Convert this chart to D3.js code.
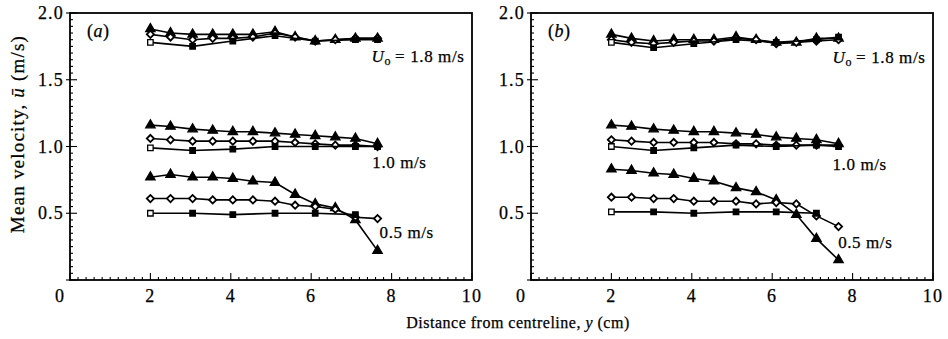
<!DOCTYPE html>
<meta charset="utf-8">
<style>
body { margin: 0; background: #fff; }
svg text { font-family: "Liberation Serif", "DejaVu Serif", serif; fill: #000; stroke: #000; stroke-width: 0.25; }
.tick-label { font-size: 18px; letter-spacing: 1.2px; }
.note { font-size: 17px; letter-spacing: 0.6px; }
.title { font-size: 16px; letter-spacing: 0.5px; }
.ytitle { font-size: 19px; letter-spacing: 1.2px; }
.series { fill: none; stroke: #000; stroke-width: 1.6; }
.frame { fill: none; stroke: #000; stroke-width: 1.8; }
</style>
<body></body>
<script src="https://d3js.org/d3.v7.min.js"></script>
<script>
var width = 948, height = 339;

// x positions (cm) of the measuring stations
var xFine = [2.0, 2.5, 3.05, 3.55, 4.05, 4.55, 5.1, 5.6, 6.1, 6.6, 7.1, 7.65];
var xCoarse = [2.0, 3.05, 4.05, 5.1, 6.1, 7.1, 7.65];
var xCoarseLow = [2.0, 3.05, 4.05, 5.1, 6.1, 7.1];

// panel (a)
var a18Tri = [1.88, 1.85, 1.84, 1.84, 1.84, 1.84, 1.86, 1.82, 1.79, 1.80, 1.81, 1.81];
var a18Dia = [1.84, 1.82, 1.80, 1.81, 1.81, 1.82, 1.85, 1.82, 1.79, 1.80, 1.81, 1.81];
var a18Sq = [1.78, 1.75, 1.79, 1.83, 1.79, 1.80, 1.80];
var a10Tri = [1.16, 1.15, 1.13, 1.12, 1.11, 1.11, 1.10, 1.09, 1.08, 1.07, 1.06, 1.02];
var a10Dia = [1.06, 1.05, 1.04, 1.04, 1.04, 1.04, 1.04, 1.03, 1.02, 1.01, 1.01, 1.00];
var a10Sq = [0.99, 0.97, 0.98, 1.00, 1.00, 1.00, 1.00];
var a05Tri = [0.77, 0.79, 0.77, 0.77, 0.76, 0.74, 0.73, 0.64, 0.57, 0.54, 0.45, 0.22];
var a05Dia = [0.61, 0.61, 0.61, 0.60, 0.60, 0.60, 0.59, 0.56, 0.55, 0.53, 0.47, 0.46];
var a05Sq = [0.50, 0.50, 0.49, 0.50, 0.50, 0.49];

// panel (b)
var b18Tri = [1.84, 1.81, 1.79, 1.80, 1.80, 1.80, 1.82, 1.80, 1.78, 1.78, 1.81, 1.81];
var b18Dia = [1.80, 1.78, 1.77, 1.78, 1.79, 1.79, 1.81, 1.80, 1.77, 1.78, 1.79, 1.80];
var b18Sq = [1.78, 1.74, 1.77, 1.80, 1.78, 1.80, 1.82];
var b10Tri = [1.16, 1.15, 1.13, 1.12, 1.11, 1.11, 1.10, 1.09, 1.07, 1.06, 1.05, 1.02];
var b10Dia = [1.05, 1.04, 1.03, 1.03, 1.03, 1.03, 1.02, 1.02, 1.01, 1.01, 1.01, 1.01];
var b10Sq = [1.00, 0.97, 0.99, 1.01, 1.00, 1.01, 1.00];
var b05Tri = [0.83, 0.82, 0.80, 0.79, 0.76, 0.74, 0.69, 0.66, 0.60, 0.49, 0.31, 0.15];
var b05Dia = [0.62, 0.62, 0.61, 0.61, 0.59, 0.59, 0.59, 0.57, 0.58, 0.57, 0.48, 0.40];
var b05Sq = [0.51, 0.51, 0.50, 0.51, 0.51, 0.50];

var xTicks = [0, 2, 4, 6, 8, 10];
var yTicks = [0.5, 1.0, 1.5, 2.0];
var yTickLabels = ["0.5", "1.0", "1.5", "2.0"];

var panels = [
	{tag: "a", left: 70, right: 472,
	 series: [[xFine, a18Tri, "tri"], [xFine, a18Dia, "dia"], [xCoarse, a18Sq, "sq"],
	          [xFine, a10Tri, "tri"], [xFine, a10Dia, "dia"], [xCoarse, a10Sq, "sq"],
	          [xFine, a05Tri, "tri"], [xFine, a05Dia, "dia"], [xCoarseLow, a05Sq, "sq"]],
	 notes: [[7.5, 1.635], [7.52, 0.84], [7.7, 0.315]]},
	{tag: "b", left: 531, right: 933,
	 series: [[xFine, b18Tri, "tri"], [xFine, b18Dia, "dia"], [xCoarse, b18Sq, "sq"],
	          [xFine, b10Tri, "tri"], [xFine, b10Dia, "dia"], [xCoarse, b10Sq, "sq"],
	          [xFine, b05Tri, "tri"], [xFine, b05Dia, "dia"], [xCoarseLow, b05Sq, "sq"]],
	 notes: [[7.5, 1.625], [7.5, 0.825], [7.64, 0.24]]}
];

var plotTop = 13, plotBottom = 280;

var svg = d3.select("body").append("svg")
	.attr("width", width)
	.attr("height", height);

var sym = {
	tri: d3.symbol().type(d3.symbolTriangle).size(38),
	dia: d3.symbol().type(d3.symbolSquare).size(26),
	sq: d3.symbol().type(d3.symbolSquare).size(30)
};

panels.forEach(function(p) {
	var x = d3.scaleLinear().domain([0, 10]).range([p.left, p.right]);
	var y = d3.scaleLinear().domain([0, 2]).range([plotBottom, plotTop]);
	var g = svg.append("g");

	// minor ticks pointing inward, majors crossing the axis
	g.selectAll(".xminor").data(d3.range(0, 10.001, 0.2)).enter().append("line")
		.attr("x1", function(d) { return x(d); }).attr("x2", function(d) { return x(d); })
		.attr("y1", plotBottom).attr("y2", function(d, i) { return i % 10 == 0 ? plotBottom - 7 : plotBottom - 3; })
		.attr("stroke", "#000").attr("stroke-width", 1.1);
	g.selectAll(".yminor").data(d3.range(0, 2.001, 0.05)).enter().append("line")
		.attr("y1", function(d) { return y(d); }).attr("y2", function(d) { return y(d); })
		.attr("x1", function(d, i) { return i % 10 == 0 ? p.left - 4 : p.left; })
		.attr("x2", function(d, i) { return i % 10 == 0 ? p.left + 7 : p.left + 3; })
		.attr("stroke", "#000").attr("stroke-width", 1.1);

	g.append("rect").attr("class", "frame")
		.attr("x", p.left).attr("y", plotTop)
		.attr("width", p.right - p.left).attr("height", plotBottom - plotTop);

	// tick labels
	g.selectAll(".xl").data(xTicks).enter().append("text")
		.attr("class", "tick-label")
		.attr("x", function(d) { return d == 0 ? x(d) - 10 : x(d); })
		.attr("y", 302)
		.attr("text-anchor", "middle")
		.text(function(d) { return d; });
	g.selectAll(".yl").data(yTicks).enter().append("text")
		.attr("class", "tick-label")
		.attr("x", p.left - 6)
		.attr("y", function(d) { return y(d) + 6; })
		.attr("text-anchor", "end")
		.text(function(d, i) { return yTickLabels[i]; });

	var line = d3.line().x(function(d) { return x(d[0]); }).y(function(d) { return y(d[1]); });

	p.series.forEach(function(s) {
		var pts = d3.zip(s[0], s[1]);
		g.append("path").attr("class", "series").attr("d", line(pts));
		g.selectAll(null).data(pts).enter().append("path")
			.attr("d", sym[s[2]])
			.attr("transform", function(d) {
				return "translate(" + x(d[0]) + "," + y(d[1]) + ")" + (s[2] == "dia" ? " rotate(45)" : "");
			})
			.attr("fill", function(d, i) {
				if (s[2] == "tri") return "#000";
				if (s[2] == "sq") return i == 0 ? "#fff" : "#000";
				return "#fff";
			})
			.attr("stroke", "#000")
			.attr("stroke-width", s[2] == "dia" ? 1.8 : 1.3);
	});

	// panel tag
	var tag = g.append("text").attr("class", "note").style("font-size", "18px")
		.attr("x", x(0.42)).attr("y", 37);
	tag.append("tspan").text("(");
	tag.append("tspan").attr("font-style", "italic").text(p.tag);
	tag.append("tspan").text(")");

	// speed notes
	var n0 = g.append("text").attr("class", "note")
		.attr("x", x(p.notes[0][0])).attr("y", y(p.notes[0][1]));
	n0.append("tspan").attr("font-style", "italic").text("U");
	n0.append("tspan").attr("font-size", "12px").attr("dy", 3).text("o");
	n0.append("tspan").attr("dy", -3).attr("dx", 4).text("=");
	n0.append("tspan").attr("dx", 5).text("1.8 m/s");
	g.append("text").attr("class", "note")
		.attr("x", x(p.notes[1][0])).attr("y", y(p.notes[1][1])).text("1.0 m/s");
	g.append("text").attr("class", "note")
		.attr("x", x(p.notes[2][0])).attr("y", y(p.notes[2][1])).text("0.5 m/s");
});

// axis titles
svg.append("text").attr("class", "title")
	.attr("x", 518).attr("y", 328).attr("text-anchor", "middle")
	.call(function(t) {
		t.append("tspan").text("Distance from centreline, ");
		t.append("tspan").attr("font-style", "italic").text("y");
		t.append("tspan").text(" (cm)");
	});

svg.append("text").attr("class", "ytitle")
	.attr("transform", "translate(24,134) rotate(-90)")
	.attr("text-anchor", "middle")
	.call(function(t) {
		t.append("tspan").text("Mean velocity, ");
		t.append("tspan").attr("font-style", "italic").text("ū");
		t.append("tspan").text(" (m/s)");
	});
</script>
